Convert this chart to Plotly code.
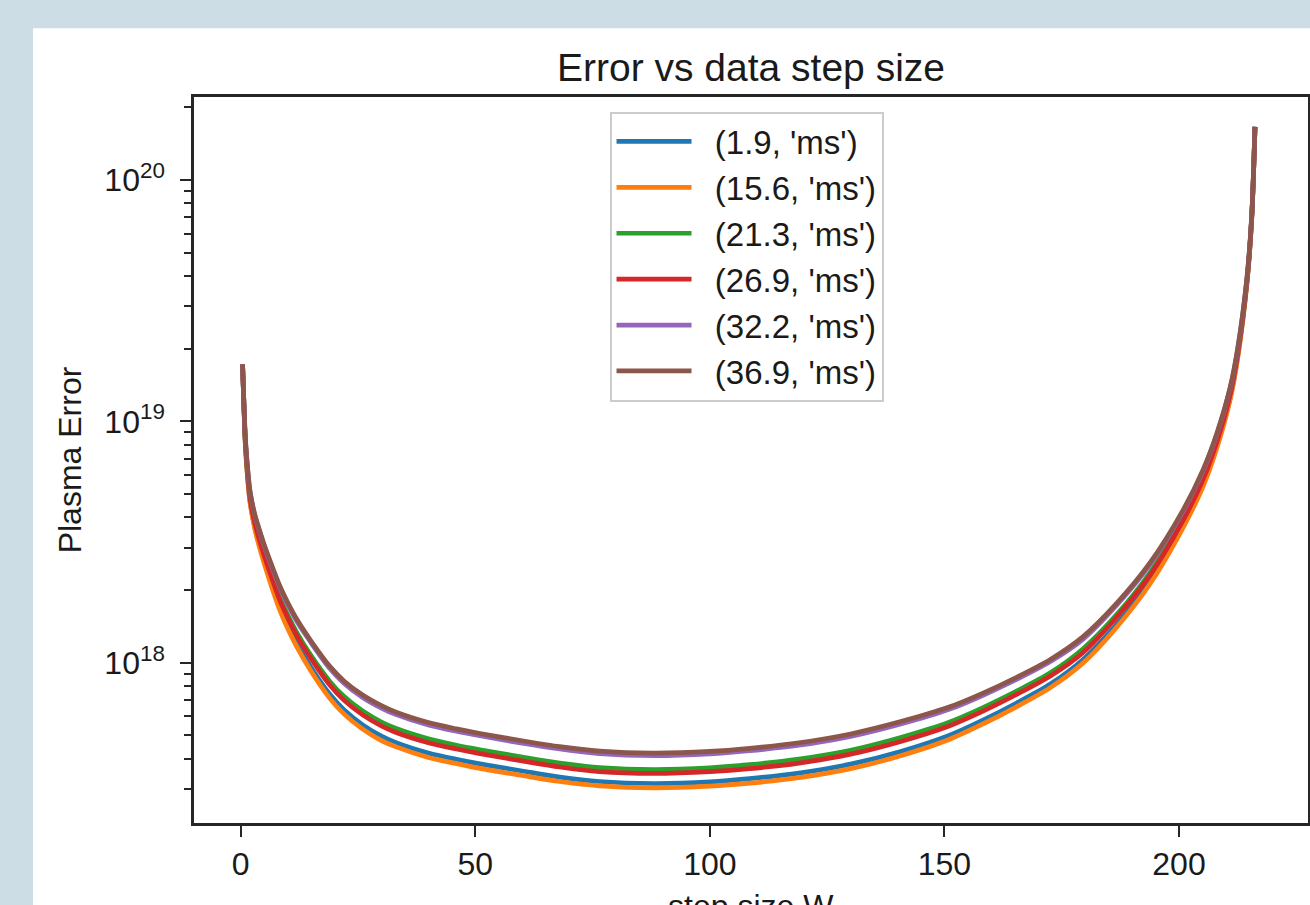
import plotly.graph_objects as go

# step size W (x) and Plasma Error values
step_size = [0.4, 0.7, 1.0, 1.5, 2.0, 3.0, 4.0, 5.0, 6.5, 8.3, 10, 12, 15, 19, 22, 26, 30, 33, 40, 46,
             51, 60, 68, 76.5, 88, 100, 108.5, 119, 130, 140.5, 151, 158, 165.5, 172.5, 179.5, 186.8,
             193.8, 200.9, 205.1, 208.1, 210.9, 212.5, 214.5, 215.5, 216.2]

err_1_9 = [1.72e19, 1.14e19, 8.03e18, 5.82e18, 4.66e18, 3.65e18, 3.07e18, 2.64e18, 2.15e18, 1.71e18,
           1.43e18, 1.20e18, 9.56e17, 7.40e17, 6.39e17, 5.53e17, 4.97e17, 4.68e17, 4.23e17, 3.98e17,
           3.81e17, 3.56e17, 3.36e17, 3.22e17, 3.16e17, 3.21e17, 3.31e17, 3.49e17, 3.80e17, 4.28e17,
           5.00e17, 5.76e17, 6.83e17, 8.14e17, 1.03e18, 1.45e18, 2.18e18, 3.72e18, 5.47e18, 7.93e18,
           1.25e19, 1.85e19, 3.78e19, 6.92e19, 1.66e20]

err_15_6 = [1.72e19, 1.14e19, 7.96e18, 5.75e18, 4.60e18, 3.59e18, 3.01e18, 2.58e18, 2.09e18, 1.66e18,
            1.39e18, 1.16e18, 9.22e17, 7.12e17, 6.14e17, 5.31e17, 4.76e17, 4.49e17, 4.05e17, 3.82e17,
            3.65e17, 3.41e17, 3.22e17, 3.09e17, 3.03e17, 3.08e17, 3.17e17, 3.34e17, 3.64e17, 4.11e17,
            4.81e17, 5.55e17, 6.59e17, 7.87e17, 9.95e17, 1.41e18, 2.12e18, 3.64e18, 5.36e18, 7.79e18,
            1.23e19, 1.82e19, 3.76e19, 6.90e19, 1.66e20]

err_21_3 = [1.72e19, 1.16e19, 8.25e18, 6.04e18, 4.87e18, 3.86e18, 3.28e18, 2.84e18, 2.33e18, 1.87e18,
            1.58e18, 1.33e18, 1.07e18, 8.37e17, 7.26e17, 6.31e17, 5.68e17, 5.35e17, 4.84e17, 4.55e17,
            4.36e17, 4.07e17, 3.84e17, 3.68e17, 3.61e17, 3.67e17, 3.78e17, 3.99e17, 4.34e17, 4.89e17,
            5.67e17, 6.49e17, 7.65e17, 9.06e17, 1.14e18, 1.59e18, 2.36e18, 3.97e18, 5.83e18, 8.38e18,
            1.31e19, 1.91e19, 3.86e19, 6.99e19, 1.66e20]

err_26_9 = [1.72e19, 1.15e19, 8.19e18, 5.98e18, 4.81e18, 3.80e18, 3.22e18, 2.78e18, 2.28e18, 1.82e18,
            1.54e18, 1.29e18, 1.04e18, 8.08e17, 7.00e17, 6.08e17, 5.47e17, 5.15e17, 4.66e17, 4.39e17,
            4.20e17, 3.92e17, 3.70e17, 3.54e17, 3.48e17, 3.54e17, 3.64e17, 3.84e17, 4.18e17, 4.71e17,
            5.47e17, 6.27e17, 7.41e17, 8.79e17, 1.10e18, 1.55e18, 2.30e18, 3.90e18, 5.72e18, 8.25e18,
            1.29e19, 1.89e19, 3.84e19, 6.97e19, 1.66e20]

err_32_2 = [1.72e19, 1.17e19, 8.47e18, 6.27e18, 5.09e18, 4.08e18, 3.51e18, 3.05e18, 2.53e18, 2.06e18,
            1.75e18, 1.48e18, 1.21e18, 9.46e17, 8.23e17, 7.18e17, 6.49e17, 6.11e17, 5.52e17, 5.20e17,
            4.98e17, 4.64e17, 4.39e17, 4.20e17, 4.12e17, 4.19e17, 4.32e17, 4.55e17, 4.95e17, 5.56e17,
            6.41e17, 7.30e17, 8.56e17, 1.01e18, 1.25e18, 1.74e18, 2.55e18, 4.25e18, 6.21e18, 8.86e18,
            1.37e19, 1.98e19, 3.95e19, 7.07e19, 1.66e20]

err_36_9 = [1.72e19, 1.17e19, 8.51e18, 6.31e18, 5.13e18, 4.12e18, 3.55e18, 3.09e18, 2.57e18, 2.09e18,
            1.78e18, 1.51e18, 1.23e18, 9.66e17, 8.41e17, 7.35e17, 6.64e17, 6.25e17, 5.65e17, 5.32e17,
            5.09e17, 4.75e17, 4.49e17, 4.30e17, 4.22e17, 4.29e17, 4.42e17, 4.66e17, 5.07e17, 5.69e17,
            6.55e17, 7.45e17, 8.73e17, 1.03e18, 1.28e18, 1.77e18, 2.59e18, 4.30e18, 6.28e18, 8.95e18,
            1.38e19, 2.00e19, 3.96e19, 7.08e19, 1.66e20]

series_names = ["(1.9, 'ms')", "(15.6, 'ms')", "(21.3, 'ms')", "(26.9, 'ms')", "(32.2, 'ms')", "(36.9, 'ms')"]
series_values = [err_1_9, err_15_6, err_21_3, err_26_9, err_32_2, err_36_9]
colors = ["#1f77b4", "#ff7f0e", "#2ca02c", "#d62728", "#9467bd", "#8c564b"]

y_tickvals = [1e18, 1e19, 1e20]
y_ticktext = ["10<sup>18</sup>", "10<sup>19</sup>", "10<sup>20</sup>"]
x_tickvals = [0, 50, 100, 150, 200]

FONT = "Liberation Sans, Arial, sans-serif"
AXC = "#262626"
TXT = "#1a1a1a"
NB = "\u00a0\u00a0"

fig = go.Figure()
for i, (name, vals, col) in enumerate(zip(series_names, series_values, colors)):
    fig.add_trace(go.Scatter(
        x=step_size, y=vals, mode="lines", name=NB + name,
        legendgroup=f"g{i}",
        line=dict(color=col, width=4.7, shape="spline", smoothing=0.8),
    ))

fig.update_layout(
    template="none",
    width=1310, height=905,
    margin=dict(l=194, r=2, t=97, b=82),
    paper_bgcolor="#ccdde5",
    plot_bgcolor="white",
    font=dict(family=FONT, size=32, color=TXT),
    title=dict(text="Error vs data step size", x=0.5, xref="paper", xanchor="center",
               y=1 - 67 / 905, yref="container", yanchor="middle",
               font=dict(family=FONT, size=39, color=TXT)),
    showlegend=True,
    legend=dict(x=0.373, y=0.98, xanchor="left", yanchor="top",
                bgcolor="rgba(255,255,255,0.85)", bordercolor="#cccccc", borderwidth=2,
                font=dict(family=FONT, size=33, color=TXT),
                tracegroupgap=0, itemwidth=75),
    shapes=[dict(type="rect", xref="paper", yref="paper", x0=-0.1445, x1=1.2, y0=-0.3, y1=1.0946,
                 fillcolor="white", line=dict(width=0), layer="below")],
    annotations=[dict(text="step size W", xref="paper", yref="paper", x=0.5, y=-0.087,
                      xanchor="center", yanchor="top", showarrow=False,
                      font=dict(family=FONT, size=32, color=TXT))],
)

fig.update_xaxes(
    range=[-9.95, 227.5], tickvals=x_tickvals, ticks="outside", ticklen=11, tickwidth=2.4,
    tickcolor=AXC, showline=True, linewidth=2.5, linecolor=AXC, mirror=True,
    showgrid=False, zeroline=False, automargin=False, ticklabelstandoff=0,
    tickfont=dict(family=FONT, size=32, color=TXT),
)
fig.update_yaxes(
    type="log", range=[17.336, 20.344], tickvals=y_tickvals, ticktext=y_ticktext,
    ticks="outside", ticklen=11, tickwidth=2.4, tickcolor=AXC,
    minor=dict(ticks="outside", ticklen=7, tickwidth=1.8, tickcolor=AXC, dtick="D1", showgrid=False),
    showline=True, linewidth=2.5, linecolor=AXC, mirror=True,
    showgrid=False, zeroline=False, automargin=False, ticklabelstandoff=9,
    tickfont=dict(family=FONT, size=32, color=TXT),
    title=dict(text="Plasma Error", standoff=14, font=dict(family=FONT, size=32, color=TXT)),
)

fig.write_html("out.html", config={"displayModeBar": False},
               post_script="document.body.style.margin='0';document.body.style.overflow='hidden';")
